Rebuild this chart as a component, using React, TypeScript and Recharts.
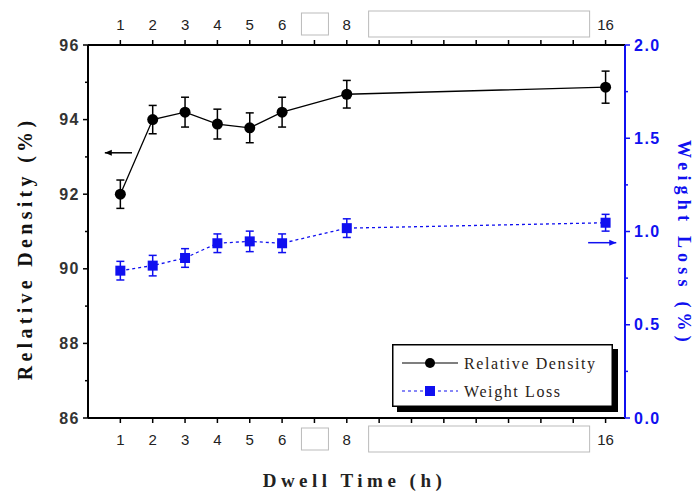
import { ComposedChart, Line, XAxis, YAxis, ErrorBar, Legend, ReferenceLine } from 'recharts';

const hours = [1, 2, 3, 4, 5, 6, 8, 16];
const relDensity = [92.0, 94.0, 94.2, 93.88, 93.78, 94.2, 94.68, 94.87];
const relDensityErr = [0.38, 0.38, 0.4, 0.4, 0.4, 0.4, 0.37, 0.43];
const weightLoss = [0.79, 0.817, 0.858, 0.937, 0.947, 0.937, 1.018, 1.047];
const weightLossErr = [0.05, 0.055, 0.05, 0.05, 0.055, 0.05, 0.05, 0.045];

const seriesNames = ['Relative Density', 'Weight Loss'];

const hourTicks = [1, 2, 3, 4, 5, 6, 7, 8, 9, 10, 11, 12, 13, 14, 15, 16];
const hourLabels = [1, 2, 3, 4, 5, 6, 8, 16];
const densityTicks = [86, 87, 88, 89, 90, 91, 92, 93, 94, 95, 96];
const densityLabels = [86, 88, 90, 92, 94, 96];
const lossTicks = [0, 0.25, 0.5, 0.75, 1.0, 1.25, 1.5, 1.75, 2.0];
const lossLabels = [0, 0.5, 1.0, 1.5, 2.0];

const data = hours.map((h, i) => ({
  h,
  rd: relDensity[i],
  rdErr: relDensityErr[i],
  wl: weightLoss[i],
  wlErr: weightLossErr[i],
}));

const BLUE = '#1010f0';
const step = 537 / 16.6;

// hour tick: labels for 1-6, 8, 16; blank boxes where 7 and 9-15 were
const HourTick = (props: any) => {
  const { x, y, payload, top } = props;
  const v = payload.value;
  const dir = top ? -1 : 1;
  const cy = y + dir * 21;
  let label = null;
  if (hourLabels.includes(v)) {
    label = (
      <text x={x} y={cy} textAnchor="middle" dominantBaseline="central" fontFamily="Liberation Sans" fontSize={15} fill="#222">
        {v}
      </text>
    );
  } else if (v === 7) {
    label = <rect x={x - 13} y={cy - 11} width={27} height={22} fill="#fff" stroke="#bbb" strokeWidth={1} />;
  } else if (v === 12) {
    label = <rect x={x - 4.5 * step + 38} y={cy - 13} width={221} height={26} fill="#fff" stroke="#bbb" strokeWidth={1} />;
  }
  return (
    <g>
      <line x1={x} y1={y} x2={x} y2={y + dir * 5} stroke="#000" strokeWidth={1.5} />
      {label}
    </g>
  );
};

const DensityTick = (props: any) => {
  const { x, y, payload } = props;
  const major = densityLabels.includes(payload.value);
  return (
    <g>
      <line x1={x} y1={y} x2={x - (major ? 5 : 3)} y2={y} stroke="#000" strokeWidth={1.5} />
      {major && (
        <text x={x - 8} y={y} textAnchor="end" dominantBaseline="central" fontFamily="Liberation Sans" fontWeight="bold" fontSize={16} letterSpacing={1.5} fill="#333">
          {payload.value}
        </text>
      )}
    </g>
  );
};

const LossTick = (props: any) => {
  const { x, y, payload } = props;
  const major = lossLabels.includes(payload.value);
  return (
    <g>
      <line x1={x} y1={y} x2={x + (major ? 5 : 3)} y2={y} stroke={BLUE} strokeWidth={1.5} />
      {major && (
        <text x={x + 9} y={y} textAnchor="start" dominantBaseline="central" fontFamily="Liberation Sans" fontWeight="bold" fontSize={16} letterSpacing={1.5} fill={BLUE}>
          {payload.value.toFixed(1)}
        </text>
      )}
    </g>
  );
};

const CircleDot = (props: any) => {
  const { cx, cy, index } = props;
  return <circle key={`c${index}`} cx={cx} cy={cy} r={5.5} fill="#000" />;
};

const SquareDot = (props: any) => {
  const { cx, cy, index } = props;
  return <rect key={`s${index}`} x={cx - 5} y={cy - 5} width={10} height={10} fill={BLUE} />;
};

const Arrow = (color: string, left: boolean) => (props: any) => {
  const { x1, y1, x2, y2 } = props;
  const tipX = left ? Math.min(x1, x2) : Math.max(x1, x2);
  const d = left ? 1 : -1;
  return (
    <g>
      <line x1={x1} y1={y1} x2={x2} y2={y2} stroke={color} strokeWidth={1.5} />
      <polygon points={`${tipX},${y1} ${tipX + d * 7},${y1 - 3} ${tipX + d * 7},${y1 + 3}`} fill={color} />
    </g>
  );
};

// legend drawn in svg so the serif font is used for the names
const LegendBox = () => (
  <div style={{ width: 226, height: 68, lineHeight: 0 }}>
    <svg width={226} height={68}>
      <rect x={5} y={5} width={221} height={63} fill="#000" />
      <rect x={0.75} y={0.75} width={219.5} height={61.5} fill="#fff" stroke="#000" strokeWidth={1.5} />
      <line x1={10} y1={19} x2={66} y2={19} stroke="#000" strokeWidth={1.2} />
      <circle cx={38} cy={19} r={5} fill="#000" />
      <text x={72} y={19} dominantBaseline="central" fontFamily="Liberation Serif" fontSize={16} letterSpacing={1.6} fill="#2a2218">
        {seriesNames[0]}
      </text>
      <line x1={10} y1={47} x2={66} y2={47} stroke={BLUE} strokeWidth={1.2} strokeDasharray="3 3" />
      <rect x={33} y={42} width={10} height={10} fill={BLUE} />
      <text x={72} y={47} dominantBaseline="central" fontFamily="Liberation Serif" fontSize={16} letterSpacing={1.6} fill="#2a2218">
        {seriesNames[1]}
      </text>
    </svg>
  </div>
);

export default function App() {
  return (
    <div style={{ position: 'absolute', left: 0, top: 0, background: '#fff' }}>
      <ComposedChart width={694} height={491} data={data} margin={{ top: 0, right: 0, bottom: 0, left: 0 }}>
        <XAxis
          xAxisId="bottom"
          dataKey="h"
          type="number"
          domain={[0, 16.6]}
          ticks={hourTicks}
          height={73}
          tickSize={0}
          tickMargin={0}
          tickLine={false}
          interval={0}
          axisLine={{ stroke: '#000', strokeWidth: 2 }}
          tick={<HourTick />}
          label={(p: any) => (
            <text
              x={p.viewBox.x + p.viewBox.width / 2 - 2}
              y={p.viewBox.y + 62}
              textAnchor="middle"
              dominantBaseline="central"
              fontFamily="Liberation Serif"
              fontWeight="bold"
              fontSize={19}
              letterSpacing={4.5}
              fill="#222"
            >
              Dwell Time (h)
            </text>
          )}
        />
        <XAxis
          xAxisId="top"
          orientation="top"
          dataKey="h"
          type="number"
          domain={[0, 16.6]}
          ticks={hourTicks}
          height={45}
          tickSize={0}
          tickMargin={0}
          tickLine={false}
          interval={0}
          axisLine={{ stroke: '#000', strokeWidth: 2 }}
          tick={<HourTick top />}
        />
        <YAxis
          yAxisId="left"
          domain={[86, 96]}
          ticks={densityTicks}
          width={88}
          tickSize={0}
          tickMargin={0}
          tickLine={false}
          interval={0}
          axisLine={{ stroke: '#000', strokeWidth: 2 }}
          tick={<DensityTick />}
          label={(p: any) => (
            <text
              x={25}
              y={p.viewBox.y + p.viewBox.height / 2 + 17}
              transform={`rotate(-90, 25, ${p.viewBox.y + p.viewBox.height / 2 + 17})`}
              textAnchor="middle"
              dominantBaseline="central"
              fontFamily="Liberation Serif"
              fontWeight="bold"
              fontSize={20}
              letterSpacing={4.3}
              fill="#111"
            >
              Relative Density (%)
            </text>
          )}
        />
        <YAxis
          yAxisId="right"
          orientation="right"
          domain={[0, 2]}
          ticks={lossTicks}
          width={69}
          tickSize={0}
          tickMargin={0}
          tickLine={false}
          interval={0}
          axisLine={{ stroke: BLUE, strokeWidth: 2 }}
          tick={<LossTick />}
          label={(p: any) => (
            <text
              x={684}
              y={p.viewBox.y + p.viewBox.height / 2 + 12}
              transform={`rotate(90, 684, ${p.viewBox.y + p.viewBox.height / 2 + 12})`}
              textAnchor="middle"
              dominantBaseline="central"
              fontFamily="Liberation Serif"
              fontWeight="bold"
              fontSize={18}
              letterSpacing={5.2}
              fill={BLUE}
            >
              Weight Loss (%)
            </text>
          )}
        />
        <ReferenceLine
          xAxisId="bottom"
          yAxisId="left"
          segment={[{ x: 0.52, y: 93.11 }, { x: 1.36, y: 93.11 }]}
          shape={Arrow('#000', true)}
        />
        <ReferenceLine
          xAxisId="bottom"
          yAxisId="right"
          segment={[{ x: 15.46, y: 0.94 }, { x: 16.33, y: 0.94 }]}
          shape={Arrow(BLUE, false)}
        />
        <Line
          xAxisId="bottom"
          yAxisId="left"
          dataKey="rd"
          name={seriesNames[0]}
          stroke="#000"
          strokeWidth={1.3}
          dot={<CircleDot />}
          isAnimationActive={false}
        >
          <ErrorBar dataKey="rdErr" direction="y" width={4} stroke="#000" strokeWidth={1.5} />
        </Line>
        <Line
          xAxisId="bottom"
          yAxisId="right"
          dataKey="wl"
          name={seriesNames[1]}
          stroke={BLUE}
          strokeWidth={1.3}
          strokeDasharray="3 3"
          dot={<SquareDot />}
          isAnimationActive={false}
        >
          <ErrorBar dataKey="wlErr" direction="y" width={4} stroke={BLUE} strokeWidth={1.5} />
        </Line>
        <Legend
          layout="horizontal"
          verticalAlign="middle"
          wrapperStyle={{ left: 392, top: 344, width: 226, height: 68 }}
          content={<LegendBox />}
        />
      </ComposedChart>
    </div>
  );
}
